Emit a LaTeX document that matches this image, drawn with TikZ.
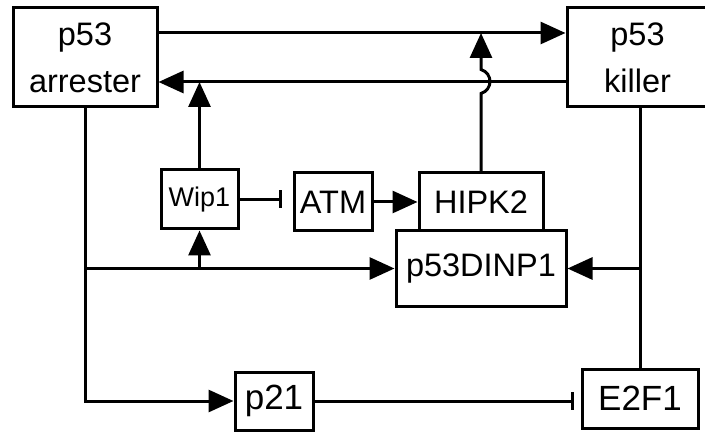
\documentclass[tikz,border=0pt]{standalone}
\usepackage{fontspec}
\setmainfont{Liberation Sans}
\usetikzlibrary{arrows.meta,calc}

\begin{document}
\begin{tikzpicture}[x=0.5pt, y=-0.5pt,
  line width=1.5pt,
  box/.style={rectangle, draw, inner sep=0pt, align=center,
    font=\fontsize{16.25}{23.5}\selectfont},
  small/.style={font=\fontsize{13.5}{16}\selectfont},
  big/.style={font=\fontsize{17.5}{20}\selectfont},
  act/.style={-{Triangle[length=12.5pt, width=11pt]}},
  inh/.style={-{Bar[width=9pt]}}]
\useasboundingbox (0,0) rectangle (705,432);
\coordinate (top) at (0,33);
\coordinate (back) at (0,82);
\node[box, minimum width=72pt, minimum height=49.5pt] (arrester) at (85,57.5) {p53\\arrester};
\node[box, minimum width=70.5pt, minimum height=49.5pt] (killer) at (637.5,57.5) {p53\\killer};
\node[box, small, minimum width=38.5pt, minimum height=29.5pt] (Wip1) at (199.5,199.5) {Wip1};
\node[box, minimum width=39pt, minimum height=29pt] (ATM) at (333,202) {ATM};
\node[box, minimum width=62pt, minimum height=29pt] (HIPK2) at (481,202) {HIPK2};
\node[box, minimum width=85pt, minimum height=37.5pt] (p53DINP1) at (481,268.5) {p53DINP1};
\node[box, big, minimum width=39pt, minimum height=29pt] (p21) at (274,401) {p21};
\node[box, big, minimum width=58pt, minimum height=29.5pt] (E2F1) at (640,398.5) {E2F1};
% p53 states
\draw[act] (arrester.east |- top) -- (killer.west |- top);
\draw[act] (killer.west |- back) -- (arrester.east |- back);
% arrester targets
\draw[act] (arrester.south) |- (p21.west);
\draw[act] (arrester.south |- p53DINP1.west) -- (p53DINP1.west);
\draw[act] (Wip1.south |- p53DINP1.west) -- (Wip1.south);
\draw[act] (Wip1.north) -- (Wip1.north |- back);
\draw[inh, shorten >=5.5pt] (Wip1.east) -- (Wip1 -| ATM.west);
\draw[act] (ATM) -- (HIPK2);
\draw[act] (HIPK2.north) -- ++(0,-78) .. controls +(12,-4) and +(12,4) .. ++(0,-24) -- (HIPK2.north |- top);
% killer targets
\draw (E2F1.north) -- (E2F1.north |- killer.south);
\draw[act] (E2F1.north |- p53DINP1.east) -- (p53DINP1.east);
\draw[inh, shorten >=3.5pt] (p21.east) -- (p21 -| E2F1.west);
\end{tikzpicture}
\end{document}
